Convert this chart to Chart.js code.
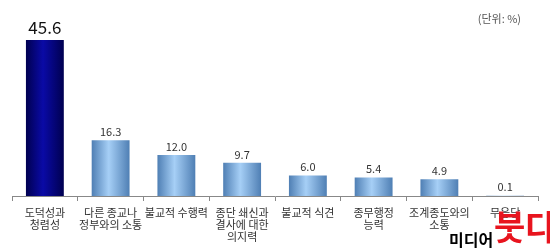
<!DOCTYPE html>
<html>
<head>
<meta charset="utf-8">
<script src="https://cdn.jsdelivr.net/npm/chart.js@4"></script>
<style>
  body { margin: 0; background: #fff; }
  #wrap { width: 550px; height: 250px; position: relative; }
</style>
</head>
<body>
<div id="wrap"><canvas id="myChart"></canvas></div>
<script>
const categories = [
  ['도덕성과', '청렴성'],
  ['다른 종교나', '정부와의 소통'],
  '불교적 수행력',
  ['종단 쇄신과', '결사에 대한', '의지력'],
  '불교적 식견',
  ['종무행정', '능력'],
  ['조계종도와의', '소통'],
  '무응답'
];
const values = [45.6, 16.3, 12.0, 9.7, 6.0, 5.4, 4.9, 0.1];
const valueLabels = ['45.6', '16.3', '12.0', '9.7', '6.0', '5.4', '4.9', '0.1'];
const unitText = '(단위: %)';

const font = '"Noto Sans CJK KR", "Noto Sans", sans-serif';
const barPct = 0.6, catPct = 0.96;

function barFill(ctx) {
  const chart = ctx.chart;
  const first = ctx.dataIndex === 0;
  const xs = chart.scales && chart.scales.x;
  const area = chart.chartArea;
  if (!xs || !area) return first ? '#00007a' : '#7aa8d8';
  const cx = xs.getPixelForValue(ctx.dataIndex);
  const half = (area.right - area.left) / categories.length * barPct * catPct / 2;
  if (!isFinite(cx) || !isFinite(half)) return first ? '#00007a' : '#7aa8d8';
  const g = chart.ctx.createLinearGradient(cx - half, 0, cx + half, 0);
  if (first) {
    g.addColorStop(0, '#000050');
    g.addColorStop(0.45, '#0a0aa6');
    g.addColorStop(1, '#000050');
  } else {
    g.addColorStop(0, '#4f7fb4');
    g.addColorStop(0.45, '#a6cff6');
    g.addColorStop(1, '#4f7fb4');
  }
  return g;
}

const labelPlugin = {
  id: 'labels',
  afterDatasetsDraw(chart) {
    const c = chart.ctx;
    const meta = chart.getDatasetMeta(0);
    c.save();
    c.textAlign = 'center';
    c.textBaseline = 'bottom';
    meta.data.forEach((bar, i) => {
      if (i === 0) {
        c.font = '17px ' + font;
        c.fillStyle = '#111';
        c.fillText(valueLabels[i], bar.x, bar.y - 4);
      } else {
        c.font = '11px ' + font;
        c.fillStyle = '#333';
        c.fillText(valueLabels[i], bar.x, bar.y - 3);
      }
    });
    c.font = '11px ' + font;
    c.fillStyle = '#555';
    c.textAlign = 'right';
    c.textBaseline = 'middle';
    c.fillText(unitText, 521, 19);
    c.restore();
  },
  afterDraw(chart) {
    // watermark
    const c = chart.ctx;
    c.save();
    c.textAlign = 'left';
    c.textBaseline = 'alphabetic';
    c.font = 'bold 16px ' + font;
    c.fillStyle = '#000';
    c.fillText('미디어', 449, 246);
    c.font = 'bold 34px ' + font;
    c.fillStyle = '#e8141e';
    c.fillText('붓다', 494, 240);
    c.restore();
  }
};

const chart = new Chart(document.getElementById('myChart'), {
  type: 'bar',
  data: {
    labels: categories,
    datasets: [{
      data: values,
      backgroundColor: barFill,
      borderWidth: 0,
      barPercentage: barPct,
      categoryPercentage: catPct
    }]
  },
  options: {
    responsive: true,
    maintainAspectRatio: false,
    animation: false,
    layout: { padding: { top: 25, left: 12, right: 12, bottom: 0 } },
    plugins: { legend: { display: false }, tooltip: { enabled: false } },
    scales: {
      x: {
        afterFit(scale) { scale.height = 54; },
        border: { display: true, color: '#888', width: 1 },
        grid: { drawOnChartArea: false, drawTicks: true, tickLength: 5, color: '#888', offset: true },
        ticks: {
          maxRotation: 0,
          autoSkip: false,
          padding: 6,
          color: '#333',
          font: { family: font, size: 11, lineHeight: 1.1 }
        }
      },
      y: {
        display: false,
        min: 0,
        max: 50
      }
    }
  },
  plugins: [labelPlugin]
});
chart.update();
</script>
</body>
</html>
